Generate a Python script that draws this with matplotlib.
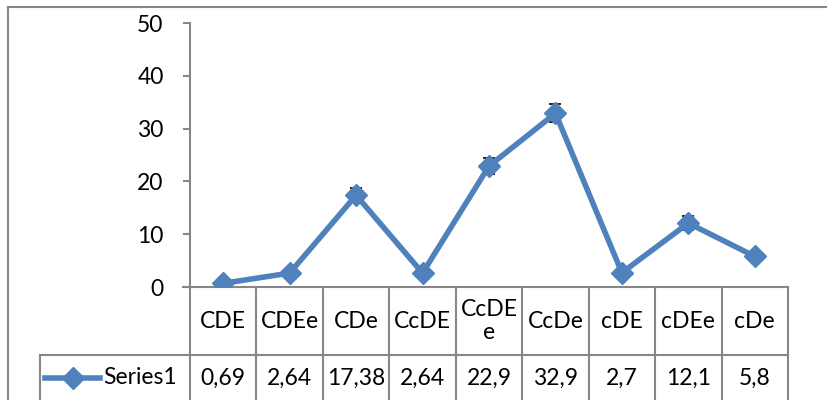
import numpy as np
import matplotlib.pyplot as plt
import matplotlib.transforms as mtransforms
from matplotlib.lines import Line2D

plt.rcParams['font.family'] = ['Lato', 'DejaVu Sans']

categories = ['CDE', 'CDEe', 'CDe', 'CcDE', 'CcDEe', 'CcDe', 'cDE', 'cDEe', 'cDe']
values = [0.69, 2.64, 17.38, 2.64, 22.9, 32.9, 2.7, 12.1, 5.8]
value_labels = ['0,69', '2,64', '17,38', '2,64', '22,9', '32,9', '2,7', '12,1', '5,8']
errors = [0.3, 0.3, 1.3, 0.3, 1.5, 1.7, 0.3, 1.3, 0.4]
series_name = 'Series1'
yticks = [0, 10, 20, 30, 40, 50]

blue = '#4F81BD'
grid_gray = '#878787'
fs = 16.5
W, H = 827, 400

fig = plt.figure(figsize=(W / 100, H / 100), dpi=100)
ax = fig.add_axes([190 / W, 1 - 287 / H, (788 - 190) / W, (287 - 23) / H])

x = np.arange(len(categories))
ax.errorbar(x, values, yerr=errors, fmt='none', ecolor='black', elinewidth=0.8,
            capsize=4, capthick=1.2, zorder=2)
ax.plot(x, values, color=blue, lw=4, marker='D', ms=11, zorder=3)

ax.set_xlim(-0.5, len(categories) - 0.5)
ax.set_ylim(0, 50)
ax.set_yticks(yticks)
ax.set_yticklabels([str(t) for t in yticks], fontsize=fs)
ax.tick_params(axis='y', length=5, width=1.5, color=grid_gray, pad=14)
ax.set_xticks([])
for s in ['top', 'right']:
    ax.spines[s].set_visible(False)
ax.spines['left'].set_color(grid_gray)
ax.spines['left'].set_linewidth(1.5)
ax.spines['bottom'].set_visible(False)

# zero line extends left like the tick
trans = mtransforms.blended_transform_factory(ax.transAxes, ax.transData)
ax.add_line(Line2D([-7 / 598, 1], [0, 0], transform=trans, color=grid_gray, lw=1.5, clip_on=False))

# data table below the axes
px = 1.0 / (287 - 23)  # axes-fraction per pixel vertically
tb = mtransforms.blended_transform_factory(ax.transData, ax.transAxes)
y_top = 0
y_mid = -(355 - 287) * px
y_bot = -(410 - 287) * px
bounds = np.arange(len(categories) + 1) - 0.5
for b in bounds:
    ax.add_line(Line2D([b, b], [y_top, y_bot], transform=tb, color=grid_gray, lw=1.5, clip_on=False))

ta = ax.transAxes
x_leg = (40 - 190) / 598
ax.add_line(Line2D([x_leg, 1], [y_mid, y_mid], transform=ta, color=grid_gray, lw=1.5, clip_on=False))
ax.add_line(Line2D([x_leg, x_leg], [y_mid, y_bot], transform=ta, color=grid_gray, lw=1.5, clip_on=False))

y_head = (y_top + y_mid) / 2
y_row = -(378 - 287) * px
for xi, cat, lab in zip(x, categories, value_labels):
    txt = cat if len(cat) <= 4 else cat[:4] + '\n' + cat[4:]
    ax.text(xi, y_head, txt, transform=tb, ha='center', va='center', fontsize=fs,
            linespacing=1.15, clip_on=False)
    ax.text(xi, y_row, lab, transform=tb, ha='center', va='center', fontsize=fs, clip_on=False)

# legend key inside the table
lx0, lx1 = (45 - 190) / 598, (100 - 190) / 598
ax.add_line(Line2D([lx0, lx1], [y_row, y_row], transform=ta, color=blue, lw=4, clip_on=False))
ax.add_line(Line2D([(lx0 + lx1) / 2], [y_row], transform=ta, color=blue, marker='D', ms=11,
                   lw=0, clip_on=False))
ax.text((103 - 190) / 598, y_row, series_name, transform=ta, ha='left', va='center',
        fontsize=fs, clip_on=False)

# outer chart border
fig.add_artist(Line2D([8 / W, 1], [1 - 7 / H, 1 - 7 / H], color=grid_gray, lw=1.5))
fig.add_artist(Line2D([8 / W, 8 / W], [0, 1 - 7 / H], color=grid_gray, lw=1.5))

fig.savefig('out.png', dpi=100)
